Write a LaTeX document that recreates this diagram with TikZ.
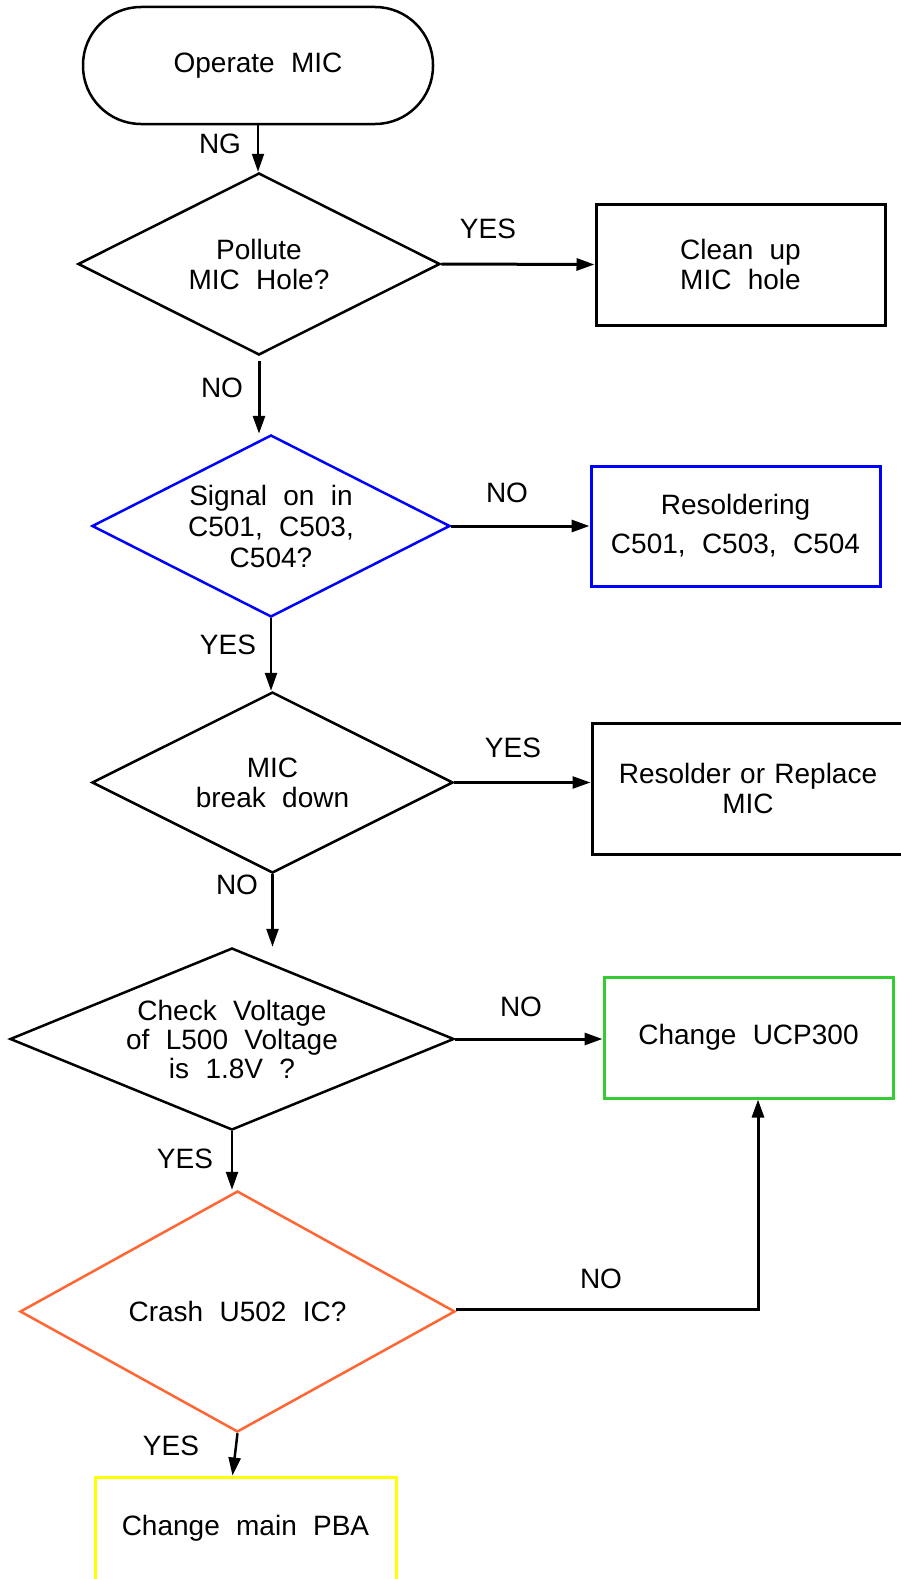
\documentclass[tikz,border=0pt]{standalone}
\usepackage{fontspec}
\setmainfont{Liberation Sans}[WordSpace=2.1]
\usetikzlibrary{shapes.geometric,arrows.meta}
\definecolor{cblue}{RGB}{0,0,255}
\definecolor{cgreen}{RGB}{51,204,51}
\definecolor{corange}{RGB}{255,102,51}
\definecolor{cyellow}{RGB}{255,255,0}
\begin{document}
\begin{tikzpicture}[x=1pt,y=-1pt,
  every node/.style={font=\fontsize{28}{30}\selectfont, text=black},
  dia/.style={draw, diamond, aspect=2, line width=2.5pt, inner sep=0pt, align=center},
  stepbox/.style={draw, rectangle, line width=3pt, inner sep=0pt, align=center},
  arr/.style={-{Triangle[length=18pt,width=12pt]}, line width=2.5pt},
  lbl/.style={inner sep=0pt}]
\useasboundingbox (0,0) rectangle (901,1579);
% start
\node[draw, line width=2.5pt, rounded corners=58pt, minimum width=350pt, minimum height=117pt] (op) at (258,65.5) {Operate MIC};
% decisions
\node[dia, minimum width=362pt, minimum height=182pt] (d1) at (259,264) {Pollute\\MIC Hole?};
\node[dia, draw=cblue, aspect=1.97, minimum width=358pt, minimum height=182pt, font=\fontsize{28}{31}\selectfont] (d2) at (271,526) {Signal on in\\C501, C503,\\C504?};
\node[dia, minimum width=361pt, minimum height=181pt] (d3) at (272.5,782.5) {MIC\\break down};
\node[dia, aspect=2.44, minimum width=444pt, minimum height=182pt, font=\fontsize{28}{29}\selectfont] (d4) at (232,1039) {Check Voltage\\of L500 Voltage\\is 1.8V ?};
\node[dia, draw=corange, minimum width=435pt, minimum height=241pt] (d5) at (237.5,1311.5) {Crash U502 IC?};
% boxes
\node[stepbox, minimum width=289pt, minimum height=121pt] (b1) at (740.5,264.5) {Clean up\\MIC hole};
\node[stepbox, draw=cblue, minimum width=289pt, minimum height=120pt, font=\fontsize{28}{39}\selectfont] (b2) at (735.5,526) {Resoldering\\C501, C503, C504};
\node[stepbox, minimum width=312pt, minimum height=131pt, text width=312pt] (b3) at (748,788.5) {Resolder or Replace\\MIC};
\node[stepbox, draw=cgreen, minimum width=289pt, minimum height=121pt] (b4) at (748.5,1037.5) {Change UCP300};
\node[stepbox, draw=cyellow, minimum width=301pt, minimum height=103pt] (b5) at (245.5,1528.5) {Change main PBA};
% connectors
\draw[arr, line width=2pt] (op.south) -- (op.south |- d1.north);
\draw[arr, line width=3pt] (d1.east) -- (b1.west);
\draw[arr, line width=3pt] ([yshift=-5pt]d1.south) -- (d1.south |- d2.north);
\draw[arr, line width=3pt] (d2.east) -- (d2.east -| b2.west);
\draw[arr] (d2.south) -- (d2.south |- d3.north);
\draw[arr] (d3.east) -- (d3.east -| b3.west);
\draw[arr] (d3.south) -- (d3.south |- d4.north);
\draw[arr, line width=3pt] (d4.east) -- (d4.east -| b4.west);
\draw[arr] (d4.south) -- (d4.south |- d5.north);
\coordinate (k) at (758,1309);
\draw[arr, line width=3pt] (d5.east |- k) -- (k) -- (k |- b4.south);
\draw[arr] (d5.south) -- ([xshift=-5pt]d5.south |- b5.north);
% labels
\node[lbl] (lng) at (220,144) {NG};
\node[lbl] (ly1) at (488,229) {YES};
\node[lbl] (ln1) at (222,388) {NO};
\node[lbl] (ln2) at (507,493) {NO};
\node[lbl] (ly2) at (228,645) {YES};
\node[lbl] (ly3) at (513,748) {YES};
\node[lbl] (ln3) at (237,885) {NO};
\node[lbl] (ln4) at (521,1007) {NO};
\node[lbl] (ly4) at (185,1159) {YES};
\node[lbl] (ln5) at (601,1279) {NO};
\node[lbl] (ly5) at (171,1446) {YES};
\end{tikzpicture}
\end{document}
